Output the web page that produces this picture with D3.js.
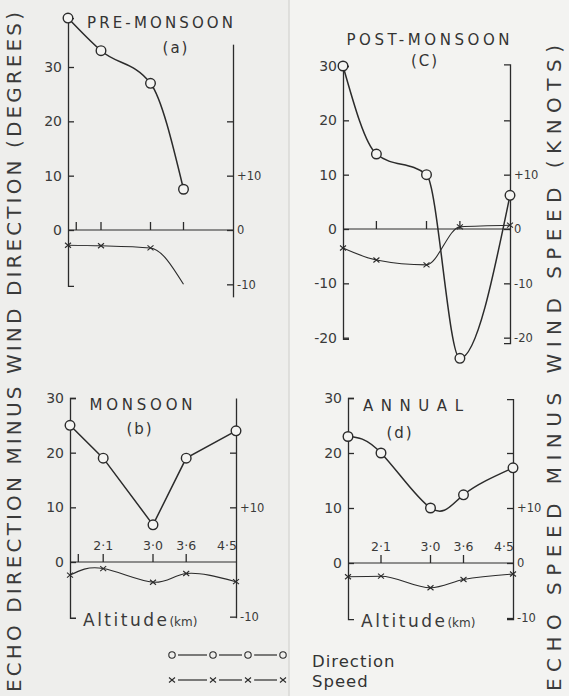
<!DOCTYPE html>
<html>
<head>
<meta charset="utf-8">
<script src="https://cdn.jsdelivr.net/npm/d3@7"></script>
<style>
  body { margin: 0; background: #f1f1ef; }
  svg { display: block; }
  .tick text { font-family: "DejaVu Sans", sans-serif; fill: #3a3a3a; }
</style>
</head>
<body>
<div class="chart"></div>
<script>
// chart data
var altitudes = [1.5, 2.1, 3.0, 3.6, 4.5];
var altTicks = [2.1, 3.0, 3.6];
var altTickLabels = ["2·1", "3·0", "3·6"];
var altEndLabel = "4·5";
var minorAltTick = 1.65;

var preDirection = [39, 33, 27, 7.5];
var preSpeed = [-2.8, -2.9, -3.3, -10];
var postDirection = [30, 13.8, 10, -23.8, 6.2];
var postSpeed = [-3.5, -5.7, -6.6, 0.4, 0.7];
var monDirection = [25, 19, 6.8, 19, 24];
var monSpeed = [-2.4, -1.2, -3.7, -2.1, -3.6];
var annDirection = [23, 20, 10, 12.4, 17.3];
var annSpeed = [-2.5, -2.4, -4.5, -3.0, -2.0];

var panelTitles = ["PRE-MONSOON", "POST-MONSOON", "MONSOON", "ANNUAL"];
var panelTags = ["(a)", "(C)", "(b)", "(d)"];
var legendLabels = ["Direction", "Speed"];

var leftTitle = "ECHO DIRECTION MINUS WIND DIRECTION (DEGREES)";
var rightTitle = "ECHO SPEED MINUS WIND SPEED (KNOTS)";
var xTitle = "Altitude";
var xUnit = "(km)";

// layout
var svgWidth = 569;
var svgHeight = 696;
var ink = "#2b2b2b";

var svg = d3.select(".chart")
    .append("svg")
    .attr("width", svgWidth)
    .attr("height", svgHeight);

svg.append("rect").attr("width", svgWidth).attr("height", svgHeight).attr("fill", "#f3f3f1");
svg.append("rect").attr("x", 0).attr("width", 289).attr("height", svgHeight).attr("fill", "#eeeeec");
svg.append("line").attr("x1", 289).attr("x2", 289).attr("y1", 0).attr("y2", svgHeight)
    .attr("stroke", "#d8d8d6").attr("stroke-width", 1.5);

var panels = [
  { px: [68, 233], zeroY: 230, topY: 67, leftExt: [-10.3, 39], rightExt: [-12.3, 34.2],
    leftTicks: [30, 20, 10, 0], rightTicks: [20, 10, 0, -10], rightOuter: 0,
    xTicks: [minorAltTick].concat(altTicks), xLabels: false,
    dir: preDirection, spd: preSpeed, spdMarks: 3,
    dirCurve: d3.curveMonotoneX, spdCurve: d3.curveMonotoneX,
    title: [160, 28, 146], tag: [176, 53] },
  { px: [343, 510], zeroY: 229, topY: 66, leftExt: [-20.2, 30], rightExt: [-21, 30.3],
    leftTicks: [30, 20, 10, 0, -10, -20], rightTicks: [20, 10, 0, -10, -20], rightOuter: -6,
    xTicks: altTicks, xLabels: false,
    dir: postDirection, spd: postSpeed, spdMarks: 5,
    dirCurve: d3.curveMonotoneX, spdCurve: d3.curveMonotoneX,
    title: [428, 45, 163], tag: [425, 66] },
  { px: [70, 236], zeroY: 562, topY: 398, leftExt: [-10.2, 30], rightExt: [-10.2, 30],
    leftTicks: [30, 20, 10, 0], rightTicks: [20, 10, -10], rightOuter: 0,
    xTicks: [minorAltTick].concat(altTicks), xLabels: true,
    dir: monDirection, spd: monSpeed, spdMarks: 5,
    dirCurve: d3.curveLinear, spdCurve: d3.curveNatural,
    title: [141, 410, 103], tag: [140, 434] },
  { px: [348, 513], zeroY: 563, topY: 398, leftExt: [-10.2, 30], rightExt: [-10.2, 29.8],
    leftTicks: [30, 20, 10, 0], rightTicks: [20, 10, 0, -10], rightOuter: -6,
    xTicks: altTicks, xLabels: true,
    dir: annDirection, spd: annSpeed, spdMarks: 5,
    dirCurve: d3.curveNatural, spdCurve: d3.curveMonotoneX,
    title: [413, 411, 100], tag: [400, 438] }
];

function fmt(d) {
  return d < 0 ? "-" + Math.abs(d) : String(d);
}

function drawCross(g, cx, cy) {
  g.append("path")
    .attr("d", "M" + (cx - 3) + "," + (cy - 2.5) + "L" + (cx + 3) + "," + (cy + 2.5) +
               "M" + (cx - 3) + "," + (cy + 2.5) + "L" + (cx + 3) + "," + (cy - 2.5))
    .attr("stroke", ink).attr("stroke-width", 1.1).attr("fill", "none");
}

panels.forEach(function (p, i) {
  var g = svg.append("g");

  var xScale = d3.scaleLinear().domain([1.5, 4.5]).range(p.px);
  var yScale = d3.scaleLinear().domain([0, 30]).range([p.zeroY, p.topY]);

  // left (direction) axis
  var yLeft = yScale.copy().domain(p.leftExt).range(p.leftExt.map(yScale));
  g.append("g")
    .attr("transform", "translate(" + p.px[0] + ",0)")
    .call(d3.axisLeft(yLeft).tickValues(p.leftTicks).tickSizeInner(-6).tickSizeOuter(-6)
      .tickPadding(5).tickFormat(fmt))
    .call(function (a) {
      a.selectAll("path,line").attr("stroke", ink).attr("stroke-width", 1.3);
      a.selectAll("text").attr("font-size", 14).attr("dx", -1);
    });

  // right (speed) axis
  var yRight = yScale.copy().domain(p.rightExt).range(p.rightExt.map(yScale));
  g.append("g")
    .attr("transform", "translate(" + p.px[1] + ",0)")
    .call(d3.axisRight(yRight).tickValues(p.rightTicks).tickSizeInner(-6).tickSizeOuter(p.rightOuter)
      .tickPadding(4).tickFormat(function (d) {
        if (d === 20) return "";
        return d > 0 ? "+" + d : fmt(d);
      }))
    .call(function (a) {
      a.selectAll("path,line").attr("stroke", ink).attr("stroke-width", 1.3);
      a.selectAll("text").attr("font-size", 11.5);
    });

  // zero line
  g.append("line")
    .attr("x1", p.px[0]).attr("x2", p.px[1])
    .attr("y1", yScale(0)).attr("y2", yScale(0))
    .attr("stroke", ink).attr("stroke-width", 1);

  // altitude ticks, pointing up from zero line
  g.selectAll(".xt").data(p.xTicks).enter().append("line")
    .attr("x1", function (d) { return xScale(d); })
    .attr("x2", function (d) { return xScale(d); })
    .attr("y1", yScale(0)).attr("y2", yScale(0) - 8)
    .attr("stroke", ink).attr("stroke-width", 1.3);

  if (p.xLabels) {
    var labs = altTicks.concat([4.5]);
    var texts = altTickLabels.concat([altEndLabel]);
    g.selectAll(".xl").data(labs).enter().append("text")
      .attr("x", function (d) { return xScale(d) - (d === 4.5 ? 9 : 0); })
      .attr("y", yScale(0) - 12)
      .attr("text-anchor", "middle")
      .attr("font-family", "DejaVu Sans, sans-serif")
      .attr("font-size", 12.5)
      .attr("fill", "#3a3a3a")
      .text(function (d, k) { return texts[k]; });

    var at = g.append("text")
      .attr("x", p.px[0] + 13).attr("y", yScale(-10) + 9)
      .attr("font-family", "DejaVu Sans, sans-serif")
      .attr("fill", "#3a3a3a");
    at.append("tspan").attr("font-size", 17).attr("letter-spacing", 2.5).text(xTitle);
    at.append("tspan").attr("font-size", 12).text(xUnit);
  }

  var line = d3.line().x(function (d) { return xScale(d.alt); }).y(function (d) { return yScale(d.v); });

  // speed curve
  var spdPts = p.spd.map(function (v, k) { return { alt: altitudes[k], v: v }; });
  g.append("path")
    .datum(spdPts)
    .attr("d", line.curve(p.spdCurve))
    .attr("fill", "none").attr("stroke", ink).attr("stroke-width", 1.1);
  spdPts.slice(0, p.spdMarks).forEach(function (d) {
    drawCross(g, xScale(d.alt), yScale(d.v));
  });

  // direction curve
  var dirPts = p.dir.map(function (v, k) { return { alt: altitudes[k], v: v }; });
  g.append("path")
    .datum(dirPts)
    .attr("d", line.curve(p.dirCurve))
    .attr("fill", "none").attr("stroke", ink).attr("stroke-width", 1.5);
  g.selectAll(".dot").data(dirPts).enter().append("circle")
    .attr("cx", function (d) { return xScale(d.alt); })
    .attr("cy", function (d) { return yScale(d.v); })
    .attr("r", 4.8)
    .attr("fill", "#f4f4f2").attr("stroke", ink).attr("stroke-width", 1.4);

  // panel title
  g.append("text")
    .attr("x", p.title[0]).attr("y", p.title[1])
    .attr("text-anchor", "middle")
    .attr("textLength", p.title[2]).attr("lengthAdjust", "spacing")
    .attr("font-family", "DejaVu Sans, sans-serif").attr("font-size", 15)
    .attr("fill", "#333")
    .text(panelTitles[i]);
  g.append("text")
    .attr("x", p.tag[0]).attr("y", p.tag[1])
    .attr("text-anchor", "middle")
    .attr("font-family", "DejaVu Sans, sans-serif").attr("font-size", 15)
    .attr("letter-spacing", 2)
    .attr("fill", "#333")
    .text(panelTags[i]);
});

// big vertical axis titles
svg.append("text")
  .attr("transform", "translate(21,352) rotate(-90)")
  .attr("text-anchor", "middle")
  .attr("textLength", 680).attr("lengthAdjust", "spacing")
  .attr("font-family", "DejaVu Sans, sans-serif").attr("font-size", 20)
  .attr("fill", "#3a3a3a")
  .text(leftTitle);

svg.append("text")
  .attr("transform", "translate(561,368) rotate(-90)")
  .attr("text-anchor", "middle")
  .attr("textLength", 646).attr("lengthAdjust", "spacing")
  .attr("font-family", "DejaVu Sans, sans-serif").attr("font-size", 20)
  .attr("fill", "#3a3a3a")
  .text(rightTitle);

// legend
var legend = svg.append("g");
var legX = [172, 213, 248, 283];
[0, 1, 2].forEach(function (k) {
  legend.append("line")
    .attr("x1", legX[k] + 6).attr("x2", legX[k + 1] - 6)
    .attr("y1", 655).attr("y2", 655)
    .attr("stroke", ink).attr("stroke-width", 1.2);
  legend.append("line")
    .attr("x1", legX[k] + 6).attr("x2", legX[k + 1] - 6)
    .attr("y1", 680).attr("y2", 680)
    .attr("stroke", ink).attr("stroke-width", 1.2);
});
legX.forEach(function (x) {
  legend.append("circle").attr("cx", x).attr("cy", 655).attr("r", 3.2)
    .attr("fill", "none").attr("stroke", ink).attr("stroke-width", 1.1);
  drawCross(legend, x, 680);
});
legend.selectAll(".lt").data(legendLabels).enter().append("text")
  .attr("x", 312)
  .attr("y", function (d, k) { return 667 + k * 20; })
  .attr("font-family", "DejaVu Sans, sans-serif").attr("font-size", 16.5)
  .attr("letter-spacing", 1)
  .attr("fill", "#333")
  .text(function (d) { return d; });
</script>
</body>
</html>
